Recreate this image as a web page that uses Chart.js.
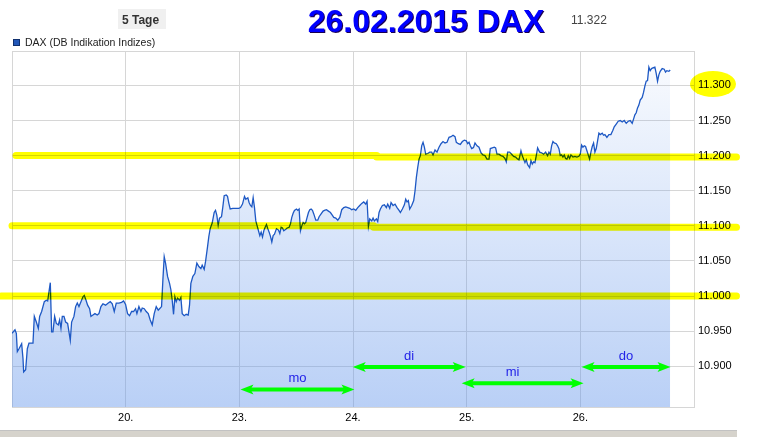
<!DOCTYPE html>
<html>
<head>
<meta charset="utf-8">
<title>DAX 5 Tage</title>
<script src="https://cdn.jsdelivr.net/npm/chart.js@4.4.1/dist/chart.umd.min.js"></script>
<style>
  html, body { margin: 0; padding: 0; background: #fff; }
  #wrap { position: relative; width: 783px; height: 437px; }
</style>
</head>
<body>
<div id="wrap"><canvas id="daxChart" width="783" height="437"></canvas></div>
<script>
// DAX Kursverlauf, Zeit in Intervallen seit Chartbeginn (1 Tag = 341.25)
const zeit = [
  0, 9, 13, 16, 21, 29, 33, 35, 41, 46,
  51, 63, 67, 73, 79, 83, 89, 97, 103, 107,
  111, 115, 119, 123, 128, 133, 139, 143, 147, 151,
  156, 161, 167, 171, 175, 179, 186, 191, 196, 201,
  207, 213, 217, 223, 227, 233, 237, 243, 249, 256,
  261, 267, 273, 281, 289, 295, 301, 307, 313, 321,
  329, 335, 341, 347, 353, 359, 365, 371, 375, 381,
  387, 391, 397, 403, 409, 415, 421, 427, 433, 439,
  443, 449, 453, 457, 461, 467, 473, 477, 481, 485,
  489, 493, 497, 503, 507, 511, 517, 523, 529, 533,
  537, 543, 549, 555, 561, 567, 571, 577, 581, 587,
  591, 595, 601, 607, 611, 615, 619, 623, 629, 633,
  637, 643, 647, 651, 655, 663, 671, 681, 686, 692,
  698, 702, 708, 712, 716, 720, 724, 728, 732, 736,
  740, 744, 748, 752, 756, 760, 764, 768, 772, 776,
  780, 784, 788, 794, 800, 804, 808, 812, 816, 822,
  826, 832, 836, 840, 844, 848, 854, 858, 862, 866,
  870, 874, 878, 882, 886, 890, 894, 898, 902, 906,
  912, 918, 922, 928, 934, 938, 944, 950, 956, 962,
  966, 972, 978, 984, 990, 996, 1002, 1008, 1014, 1020,
  1026, 1032, 1038, 1044, 1050, 1056, 1062, 1066, 1070, 1074,
  1080, 1084, 1088, 1094, 1098, 1102, 1106, 1112, 1118, 1124,
  1128, 1134, 1138, 1144, 1150, 1156, 1162, 1166, 1172, 1178,
  1182, 1186, 1190, 1194, 1200, 1206, 1210, 1214, 1218, 1222,
  1226, 1230, 1234, 1238, 1242, 1248, 1254, 1260, 1264, 1270,
  1276, 1282, 1288, 1294, 1300, 1306, 1312, 1318, 1324, 1330,
  1334, 1340, 1346, 1352, 1358, 1364, 1368, 1372, 1376, 1380,
  1384, 1386, 1390, 1396, 1402, 1408, 1414, 1420, 1426, 1432,
  1436, 1442, 1448, 1452, 1456, 1462, 1468, 1474, 1480, 1484,
  1488, 1494, 1500, 1506, 1512, 1516, 1522, 1528, 1532, 1536,
  1540, 1544, 1548, 1554, 1558, 1562, 1566, 1570, 1574, 1578,
  1584, 1590, 1596, 1602, 1608, 1612, 1616, 1620, 1624, 1628,
  1634, 1638, 1642, 1646, 1650, 1654, 1658, 1662, 1666, 1670,
  1674, 1678, 1684, 1690, 1696, 1702, 1706, 1710, 1714, 1718,
  1722, 1726, 1730, 1734, 1738, 1742, 1746, 1750, 1754, 1758,
  1762, 1766, 1772, 1776, 1780, 1786, 1792, 1798, 1804, 1808,
  1814, 1820, 1826, 1832, 1838, 1844, 1850, 1856, 1862, 1866,
  1870, 1874, 1878, 1882, 1886, 1892, 1896, 1900, 1904, 1908,
  1912, 1916, 1920, 1924, 1930, 1934, 1938, 1942, 1946, 1952,
  1958, 1962, 1966, 1972, 1976
];
const kurs = [
  10947, 10952, 10947, 10921, 10925, 10932, 10911, 10892, 10895, 10925,
  10933, 10933, 10971, 10963, 10954, 10971, 10978, 10992, 10994, 10993,
  11006, 11019, 10949, 10949, 10971, 10961, 10959, 10966, 10954, 10971,
  10971, 10963, 10961, 10949, 10937, 10963, 10971, 10985, 10990, 10985,
  10992, 10999, 11001, 10993, 10987, 10982, 10971, 10973, 10975, 10973,
  10975, 10985, 10989, 10987, 10990, 10992, 10989, 10978, 10990, 10990,
  10991, 10993, 10988, 10975, 10972, 10978, 10978, 10982, 10975, 10985,
  10978, 10983, 10982, 10978, 10975, 10966, 10959, 10975, 10985, 10980,
  10982, 10985, 11023, 11056, 11047, 11028, 11018, 11009, 10994, 10974,
  10999, 10992, 10997, 10994, 10998, 10975, 10972, 10974, 10973, 10987,
  11018, 11028, 11032, 11047, 11042, 11039, 11044, 11038, 11049, 11070,
  11085, 11096, 11104, 11119, 11122, 11115, 11101, 11111, 11113, 11127,
  11143, 11144, 11142, 11132, 11124, 11125, 11125, 11125, 11126, 11131,
  11142, 11138, 11140, 11133, 11129, 11127, 11140, 11126, 11107, 11100,
  11093, 11086, 11091, 11084, 11093, 11098, 11102, 11096, 11091, 11085,
  11077, 11086, 11088, 11096, 11094, 11089, 11098, 11097, 11093, 11095,
  11097, 11098, 11103, 11112, 11118, 11122, 11124, 11122, 11124, 11093,
  11100, 11105, 11103, 11105, 11112, 11119, 11123, 11124, 11122, 11117,
  11108, 11108, 11113, 11117, 11121, 11122, 11123, 11121, 11119, 11115,
  11112, 11111, 11108, 11112, 11123, 11126, 11127, 11126, 11125, 11123,
  11124, 11122, 11126, 11129, 11132, 11134, 11131, 11135, 11099, 11110,
  11107, 11111, 11107, 11110, 11106, 11119, 11124, 11129, 11130, 11126,
  11131, 11125, 11133, 11129, 11131, 11126, 11122, 11119, 11124, 11130,
  11138, 11134, 11136, 11124, 11129, 11136, 11150, 11169, 11183, 11195,
  11200, 11214, 11219, 11212, 11202, 11203, 11205, 11205, 11201, 11208,
  11205, 11212, 11217, 11220, 11218, 11219, 11226, 11227, 11229, 11227,
  11219, 11217, 11216, 11220, 11222, 11221, 11217, 11219, 11214, 11210,
  11211, 11212, 11218, 11214, 11212, 11204, 11201, 11200, 11195, 11195,
  11210, 11211, 11212, 11211, 11202, 11202, 11200, 11199, 11196, 11191,
  11205, 11205, 11202, 11199, 11198, 11196, 11194, 11207, 11200, 11195,
  11190, 11194, 11187, 11183, 11193, 11188, 11191, 11190, 11200, 11211,
  11205, 11204, 11202, 11205, 11200, 11205, 11202, 11214, 11220, 11218,
  11217, 11214, 11210, 11200, 11201, 11198, 11201, 11196, 11195, 11200,
  11196, 11201, 11198, 11199, 11198, 11199, 11202, 11215, 11212, 11214,
  11213, 11207, 11201, 11195, 11205, 11213, 11218, 11205, 11210, 11221,
  11232, 11230, 11232, 11229, 11230, 11226, 11230, 11230, 11236, 11241,
  11245, 11249, 11250, 11248, 11250, 11246, 11249, 11250, 11246, 11252,
  11258, 11261, 11268, 11272, 11279, 11283, 11290, 11299, 11306, 11307,
  11326, 11321, 11324, 11325, 11326, 11317, 11306, 11315, 11320, 11324,
  11323, 11319, 11321, 11320, 11322
];

// Achsen
const tagPos = [341.25, 682.5, 1023.75, 1365, 1706.25];
const tagLabels = ["20.", "23.", "24.", "25.", "26."];
const yTicks = [10900, 10950, 11000, 11050, 11100, 11150, 11200, 11250, 11300];
const yMin = 10842, yMax = 11349, xMax = 2047.5;
const letzterKurs = "11.322";

// gelbe Markierungslinien
const bandKurs = [11200, 11198, 11100, 11098, 11000];
const bandVon = [12, 1095, 0, 1086, -33];
const bandBis = [1095, 2175, 1086, 2175, 2175];

// grüne Pfeile für die Wochentage
const pfeilText = ["mo", "di", "mi", "do"];
const pfeilVon = [686, 1023, 1350, 1710];
const pfeilBis = [1028, 1362, 1716, 1977];
const pfeilKurs = [10867, 10899, 10876, 10899];
const textZeit = [857, 1192, 1503, 1843];

const FONT = '"Liberation Sans", Arial, sans-serif';

function fmt(v) {
  return Math.floor(v / 1000) + "." + String(v % 1000).padStart(3, "0");
}

function pfeil(ctx, x1, x2, y) {
  ctx.strokeStyle = "#00ff00";
  ctx.fillStyle = "#00ff00";
  ctx.lineWidth = 4;
  ctx.beginPath();
  ctx.moveTo(x1 + 8, y);
  ctx.lineTo(x2 - 8, y);
  ctx.stroke();
  [[x1, 1], [x2, -1]].forEach(([x, d]) => {
    ctx.beginPath();
    ctx.moveTo(x, y);
    ctx.lineTo(x + d * 13, y - 5);
    ctx.lineTo(x + d * 10, y);
    ctx.lineTo(x + d * 13, y + 5);
    ctx.closePath();
    ctx.fill();
  });
}

const extras = {
  id: "extras",
  beforeDraw(chart) {
    const ctx = chart.ctx;
    ctx.save();
    ctx.fillStyle = "#fff";
    ctx.fillRect(0, 0, chart.width, chart.height);
    // Leiste unten
    ctx.fillStyle = "#d6d3cc";
    ctx.fillRect(0, 431, 737, 6);
    ctx.fillStyle = "#c2c2c2";
    ctx.fillRect(0, 430, 737, 1);
    ctx.restore();
  },
  beforeDatasetsDraw(chart) {
    const { ctx, chartArea: a } = chart;
    ctx.save();
    ctx.strokeStyle = "#d6d6d6";
    ctx.lineWidth = 1;
    ctx.strokeRect(a.left + 0.5, a.top + 0.5, a.right - a.left, a.bottom - a.top);
    ctx.restore();
  },
  afterDatasetsDraw(chart) {
    const { ctx } = chart;
    const xs = chart.scales.x, ys = chart.scales.y;
    ctx.save();
    // gelbe Linien (multipliziert)
    ctx.globalCompositeOperation = "multiply";
    ctx.strokeStyle = "#ffff00";
    ctx.lineWidth = 7;
    ctx.lineCap = "round";
    bandKurs.forEach((k, i) => {
      const y = ys.getPixelForValue(k);
      ctx.beginPath();
      ctx.moveTo(xs.getPixelForValue(bandVon[i]), y);
      ctx.lineTo(xs.getPixelForValue(bandBis[i]), y);
      ctx.stroke();
    });
    // Ellipse um letzten Stand
    ctx.fillStyle = "#ffff00";
    ctx.beginPath();
    ctx.ellipse(ys.left + 19, ys.getPixelForValue(11302), 23, 13, 0, 0, Math.PI * 2);
    ctx.fill();
    ctx.globalCompositeOperation = "source-over";
    // Pfeile
    pfeilText.forEach((t, i) => {
      const y = ys.getPixelForValue(pfeilKurs[i]);
      pfeil(ctx, xs.getPixelForValue(pfeilVon[i]), xs.getPixelForValue(pfeilBis[i]), y);
      ctx.fillStyle = "#2323e8";
      ctx.font = "13px " + FONT;
      ctx.textAlign = "center";
      ctx.textBaseline = "alphabetic";
      ctx.fillText(t, xs.getPixelForValue(textZeit[i]), y - 7);
    });
    ctx.restore();
  },
  afterDraw(chart) {
    const ctx = chart.ctx;
    ctx.save();
    // "5 Tage" Knopf
    ctx.fillStyle = "#f0f0f0";
    ctx.fillRect(118, 9, 48, 20);
    ctx.fillStyle = "#333";
    ctx.font = "bold 12px " + FONT;
    ctx.textAlign = "left";
    ctx.fillText("5 Tage", 122, 24);
    // Titel
    ctx.font = "bold 32px " + FONT;
    ctx.textAlign = "center";
    ctx.shadowColor = "#1a0050";
    ctx.shadowOffsetX = 1;
    ctx.shadowOffsetY = 1;
    ctx.fillStyle = "#0000ff";
    ctx.fillText("26.02.2015 DAX", 426, 32);
    ctx.shadowColor = "transparent";
    // letzter Kurs
    ctx.font = "12px " + FONT;
    ctx.textAlign = "left";
    ctx.fillStyle = "#444";
    ctx.fillText(letzterKurs, 571, 24);
    // Legende
    ctx.fillStyle = "#2257b8";
    ctx.fillRect(13.5, 39.5, 6, 6);
    ctx.strokeStyle = "#10306e";
    ctx.lineWidth = 1;
    ctx.strokeRect(13.5, 39.5, 6, 6);
    ctx.fillStyle = "#222";
    ctx.font = "10.5px " + FONT;
    ctx.fillText("DAX (DB Indikation Indizes)", 25, 46);
    ctx.restore();
  }
};

const canvas = document.getElementById("daxChart");
new Chart(canvas.getContext("2d"), {
  type: "line",
  data: {
    datasets: [{
      data: zeit.map((t, i) => ({ x: t, y: kurs[i] })),
      borderColor: "#1d58c4",
      borderWidth: 1.3,
      pointRadius: 0,
      tension: 0,
      fill: "start",
      backgroundColor: (c) => {
        const { ctx, chartArea } = c.chart;
        if (!chartArea) return "rgba(100,150,235,0.2)";
        const g = ctx.createLinearGradient(0, chartArea.top, 0, chartArea.bottom);
        g.addColorStop(0, "rgba(100,150,235,0.03)");
        g.addColorStop(1, "rgba(100,150,235,0.45)");
        return g;
      }
    }]
  },
  options: {
    responsive: false,
    animation: false,
    devicePixelRatio: 1,
    layout: { padding: { left: 12, top: 51, right: 0, bottom: 0 } },
    plugins: { legend: { display: false }, tooltip: { enabled: false } },
    scales: {
      x: {
        type: "linear",
        min: 0,
        max: xMax,
        afterBuildTicks: (s) => { s.ticks = tagPos.map(v => ({ value: v })); },
        afterFit: (s) => { s.height = 30; },
        grid: { color: "#d6d6d6", drawTicks: false },
        border: { display: false },
        ticks: {
          padding: 4,
          color: "#000",
          maxRotation: 0,
          autoSkip: false,
          font: { family: FONT, size: 11 },
          callback: (v, i) => tagLabels[i]
        }
      },
      y: {
        position: "right",
        min: yMin,
        max: yMax,
        afterBuildTicks: (s) => { s.ticks = yTicks.map(v => ({ value: v })); },
        afterFit: (s) => { s.width = 89; },
        grid: { color: "#d6d6d6", drawTicks: false },
        border: { display: false },
        ticks: {
          padding: 4,
          color: "#000",
          font: { family: FONT, size: 11 },
          callback: (v) => fmt(v)
        }
      }
    }
  },
  plugins: [extras]
});
</script>
</body>
</html>
